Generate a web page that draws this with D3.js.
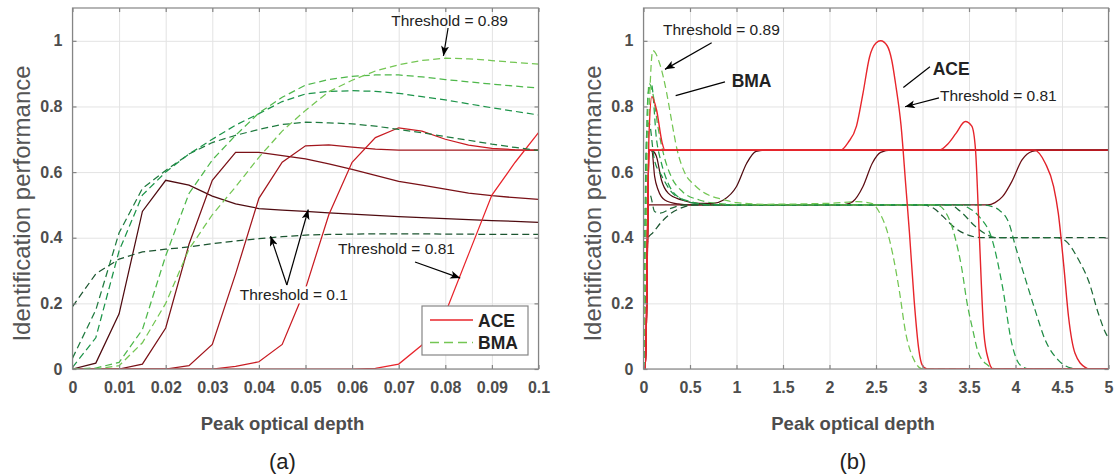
<!DOCTYPE html>
<html><head><meta charset="utf-8">
<script src="https://cdn.jsdelivr.net/npm/d3@7/dist/d3.min.js"></script>
<style>body{margin:0;background:#fff}svg{display:block}</style>
</head><body><svg id="c" width="1115" height="474"></svg>
<script>
// ---------- DATA: panel (a) ----------
const xA = [0,0.005,0.01,0.015,0.02,0.025,0.03,0.035,0.04,0.045,0.05,0.055,0.06,0.065,0.07,0.075,0.08,0.085,0.09,0.095,0.1];
const aceA1 = [0,0.018,0.168,0.48,0.575,0.56,0.527,0.503,0.489,0.484,0.48,0.476,0.472,0.468,0.464,0.461,0.458,0.455,0.452,0.45,0.447];
const aceA2 = [0,0,0,0.015,0.125,0.38,0.575,0.66,0.66,0.65,0.64,0.625,0.608,0.59,0.572,0.56,0.548,0.536,0.528,0.522,0.517];
const aceA3 = [0,0,0,0,0,0.01,0.075,0.29,0.52,0.63,0.68,0.683,0.676,0.67,0.667,0.667,0.667,0.667,0.667,0.667,0.667];
const aceA4 = [0,0,0,0,0,0,0,0.008,0.022,0.075,0.245,0.47,0.63,0.705,0.735,0.725,0.7,0.682,0.672,0.668,0.667];
const aceA5 = [0,0,0,0,0,0,0,0,0,0,0,0,0,0.002,0.015,0.073,0.17,0.35,0.53,0.63,0.72];
const bmaA1 = [0.19,0.29,0.335,0.357,0.365,0.372,0.382,0.39,0.397,0.403,0.408,0.41,0.411,0.412,0.412,0.412,0.411,0.411,0.41,0.41,0.41];
const bmaA2 = [0.033,0.18,0.415,0.55,0.605,0.655,0.69,0.712,0.73,0.745,0.752,0.75,0.747,0.74,0.73,0.72,0.708,0.697,0.685,0.675,0.666];
const bmaA3 = [0.005,0.095,0.36,0.53,0.6,0.655,0.7,0.743,0.778,0.815,0.838,0.846,0.848,0.846,0.84,0.83,0.82,0.808,0.796,0.785,0.774];
const bmaA4 = [0,0.003,0.02,0.12,0.345,0.535,0.637,0.712,0.78,0.828,0.865,0.882,0.892,0.896,0.896,0.89,0.882,0.875,0.868,0.862,0.856];
const bmaA5 = [0,0,0.01,0.08,0.2,0.365,0.47,0.555,0.645,0.725,0.788,0.845,0.88,0.908,0.927,0.94,0.947,0.945,0.94,0.934,0.929];

// ---------- DATA: panel (b) as [x, value] ----------
const aceB1 = [[0,0],[0.02,0],[0.06,0.667],[0.1,0.664],[0.14,0.647],[0.193,0.576],[0.265,0.536],[0.41,0.515],[0.6,0.505],[0.75,0.505],[0.86,0.515],[1.0,0.556],[1.11,0.627],[1.21,0.663],[1.32,0.667],[5,0.667]];
const aceB2 = [[0,0],[0.02,0],[0.06,0.667],[0.09,0.665],[0.12,0.586],[0.157,0.546],[0.229,0.515],[0.37,0.503],[0.5,0.5],[2.15,0.5],[2.25,0.51],[2.36,0.556],[2.46,0.627],[2.55,0.66],[2.66,0.667],[5,0.667]];
const aceB3 = [[0,0],[0.02,0],[0.055,0.5],[3.7,0.5],[3.78,0.507],[3.86,0.525],[3.96,0.571],[4.07,0.637],[4.18,0.663],[4.28,0.667],[5,0.667]];
const aceB4 = [[0,0],[0.02,0],[0.06,0.667],[5,0.667]];
const aceB5 = [[0,0],[0.02,0],[0.06,0.667],[4.2,0.667],[4.32,0.627],[4.41,0.556],[4.46,0.475],[4.52,0.312],[4.57,0.16],[4.64,0.048],[4.75,0.005],[4.8,0],[5,0]];
const aceB6 = [[0,0],[0.02,0],[0.06,0.667],[3.18,0.667],[3.27,0.685],[3.36,0.718],[3.46,0.754],[3.53,0.74],[3.57,0.668],[3.61,0.414],[3.66,0.11],[3.71,0.027],[3.76,0],[5,0]];
const aceB7 = [[0,0],[0.02,0],[0.06,0.72],[0.09,0.83],[0.14,0.79],[0.2,0.69],[0.23,0.667],[2.12,0.667],[2.2,0.69],[2.29,0.74],[2.36,0.84],[2.43,0.95],[2.5,0.993],[2.55,1.0],[2.62,0.985],[2.67,0.94],[2.71,0.87],[2.77,0.74],[2.82,0.56],[2.86,0.414],[2.91,0.21],[2.96,0.06],[3.0,0.01],[3.05,0],[5,0]];
const bmaB1 = [[0,0],[0.05,0.4],[0.1,0.415],[0.2,0.45],[0.3,0.475],[0.4,0.49],[0.55,0.5],[3.0,0.5],[3.12,0.49],[3.22,0.465],[3.35,0.43],[3.5,0.407],[3.65,0.4],[5,0.4]];
const bmaB2 = [[0,0],[0.04,0.52],[0.07,0.53],[0.12,0.48],[0.18,0.475],[0.3,0.49],[0.45,0.5],[3.3,0.5],[3.4,0.482],[3.57,0.434],[3.7,0.408],[3.8,0.4],[4.45,0.4],[4.54,0.39],[4.68,0.332],[4.79,0.265],[4.89,0.17],[4.98,0.104],[5,0.095]];
const bmaB3 = [[0,0],[0.035,0.72],[0.06,0.75],[0.115,0.64],[0.193,0.59],[0.3,0.54],[0.43,0.515],[0.6,0.503],[0.8,0.5],[3.65,0.5],[3.75,0.495],[3.82,0.485],[3.93,0.444],[4.0,0.373],[4.11,0.271],[4.21,0.18],[4.32,0.088],[4.46,0.027],[4.6,0.003],[4.7,0],[5,0]];
const bmaB4 = [[0,0],[0.05,0.84],[0.086,0.866],[0.14,0.7],[0.193,0.627],[0.265,0.566],[0.37,0.525],[0.51,0.51],[0.7,0.5],[3.4,0.5],[3.5,0.49],[3.61,0.464],[3.75,0.393],[3.86,0.251],[3.96,0.078],[4.05,0.012],[4.15,0],[5,0]];
const bmaB5 = [[0,0],[0.06,0.87],[0.1,0.84],[0.16,0.73],[0.22,0.65],[0.3,0.585],[0.42,0.54],[0.6,0.515],[0.85,0.503],[1.1,0.5],[3.15,0.5],[3.29,0.455],[3.36,0.39],[3.42,0.31],[3.48,0.2],[3.54,0.12],[3.6,0.05],[3.7,0.012],[3.8,0],[5,0]];
const bmaB6 = [[0,0],[0.1,0.97],[0.18,0.925],[0.25,0.84],[0.3,0.76],[0.36,0.67],[0.44,0.6],[0.55,0.56],[0.7,0.53],[0.85,0.517],[1.0,0.507],[1.3,0.502],[2.0,0.505],[2.3,0.51],[2.45,0.505],[2.55,0.47],[2.62,0.42],[2.68,0.35],[2.75,0.24],[2.82,0.109],[2.91,0.027],[3.0,0],[5,0]];

// ---------- TICKS ----------
const xTicksA = [0,0.01,0.02,0.03,0.04,0.05,0.06,0.07,0.08,0.09,0.1];
const xLabelsA = ["0","0.01","0.02","0.03","0.04","0.05","0.06","0.07","0.08","0.09","0.1"];
const xTicksB = [0,0.5,1,1.5,2,2.5,3,3.5,4,4.5,5];
const xLabelsB = ["0","0.5","1","1.5","2","2.5","3","3.5","4","4.5","5"];
const yTicks = [0,0.2,0.4,0.6,0.8,1];
const yLabels = ["0","0.2","0.4","0.6","0.8","1"];

const aceColA = ["#4f0b10","#7a1117","#a3161d","#c91b22","#e8242b"];
const bmaColA = ["#1c5530","#1f7a3f","#1c9449","#4fb84b","#74c653"];
const aceColB = ["#4f0b10","#5d0d13","#6c0f15","#d41d25","#e2222a","#e6242b","#e8262c"];
const bmaColB = ["#1c5530","#1f6a38","#1f8a45","#23a04a","#4fb84b","#74c653"];

const FONT = "Liberation Sans, Arial, Helvetica, sans-serif";
const svg = d3.select("#c");
const defs = svg.append("defs");
defs.append("marker").attr("id","arr").attr("viewBox","0 0 10 8").attr("refX",10).attr("refY",4)
  .attr("markerWidth",10).attr("markerHeight",8).attr("markerUnits","userSpaceOnUse").attr("orient","auto")
  .append("path").attr("d","M0,0 L10,4 L0,8 L2.5,4 Z").attr("fill","#000");

const TOP = 8, BOT = 369;

function panel(o){
  const x = d3.scaleLinear().domain(o.xDomain).range([o.left,o.right]);
  const y = d3.scaleLinear().domain([0,1.1]).range([BOT,TOP]);
  const g = svg.append("g");
  defs.append("clipPath").attr("id","clip"+o.id).append("rect")
    .attr("x",o.left).attr("y",TOP).attr("width",o.right-o.left).attr("height",BOT-TOP);
  // grid
  g.append("g").attr("transform",`translate(0,${BOT})`)
    .call(d3.axisBottom(x).tickValues(o.xTicks).tickSize(-(BOT-TOP)).tickFormat(""))
    .call(s=>{s.select(".domain").remove();s.selectAll("line").attr("stroke","#e3e3e3");});
  g.append("g").attr("transform",`translate(${o.left},0)`)
    .call(d3.axisLeft(y).tickValues(yTicks).tickSize(-(o.right-o.left)).tickFormat(""))
    .call(s=>{s.select(".domain").remove();s.selectAll("line").attr("stroke","#e3e3e3");});
  // lines
  const lg = g.append("g").attr("clip-path",`url(#clip${o.id})`).attr("fill","none");
  o.ace.forEach((d,i)=>{
    lg.append("path").attr("d",o.line(d)).attr("stroke",o.aceCol[i]).attr("stroke-width",1.25);
  });
  o.bma.forEach((d,i)=>{
    lg.append("path").attr("d",o.line(d)).attr("stroke",o.bmaCol[i]).attr("stroke-width",1.25).attr("stroke-dasharray","7,4");
  });
  o.aceTop.forEach((d,i)=>{
    lg.append("path").attr("d",o.line(d)).attr("stroke",o.aceTopCol[i]).attr("stroke-width",1.4);
  });
  // frame
  g.append("rect").attr("x",o.left).attr("y",TOP).attr("width",o.right-o.left).attr("height",BOT-TOP)
    .attr("fill","none").attr("stroke","#858585").attr("stroke-width",1.2);
  const styleAx = s=>{
    s.select(".domain").remove();
    s.selectAll("line").attr("stroke","#858585").attr("stroke-width",1.2);
    s.selectAll("text").attr("fill","#4d4d4d").attr("font-weight","bold").attr("font-size",16).attr("font-family",FONT);
  };
  g.append("g").attr("transform",`translate(0,${BOT})`)
    .call(d3.axisBottom(x).tickValues(o.xTicks).tickFormat((d,i)=>o.xLabels[i]).tickSize(-4).tickPadding(13)).call(styleAx);
  g.append("g").attr("transform",`translate(0,${TOP})`)
    .call(d3.axisTop(x).tickValues(o.xTicks).tickFormat("").tickSize(-4)).call(styleAx);
  g.append("g").attr("transform",`translate(${o.left},0)`)
    .call(d3.axisLeft(y).tickValues(yTicks).tickFormat((d,i)=>yLabels[i]).tickSize(-4).tickPadding(10)).call(styleAx);
  g.append("g").attr("transform",`translate(${o.right},0)`)
    .call(d3.axisRight(y).tickValues(yTicks).tickFormat("").tickSize(-4)).call(styleAx);
  // titles
  const cx = (o.left+o.right)/2 - 23;
  g.append("text").attr("x",cx).attr("y",429.5).attr("text-anchor","middle")
    .attr("font-family",FONT).attr("font-weight","bold").attr("font-size",18.5).attr("fill","#4d4d4d").text("Peak optical depth");
  g.append("text").attr("x",cx).attr("y",469).attr("text-anchor","middle")
    .attr("font-family",FONT).attr("font-size",22).attr("fill","#222").text(o.tag);
  g.append("text").attr("transform",`translate(${o.left-43},${(TOP+BOT)/2+15}) rotate(-90)`).attr("text-anchor","middle")
    .attr("font-family",FONT).attr("font-size",24).attr("fill","#555").text("Identification performance");
  return {x,y,g};
}

function annText(g,x,y,t,bold,size){
  return g.append("text").attr("x",x).attr("y",y).attr("font-family",FONT)
    .attr("font-size",size||15.5).attr("font-weight",bold?"bold":"normal").attr("fill","#222").text(t);
}
function arrow(g,x1,y1,x2,y2,head){
  const l = g.append("line").attr("x1",x1).attr("y1",y1).attr("x2",x2).attr("y2",y2)
    .attr("stroke","#000").attr("stroke-width",1.2);
  if(head) l.attr("marker-end","url(#arr)");
}

// ---------- Panel (a) ----------
const lineA = d3.line();
let pa;
{
  const xs = d3.scaleLinear().domain([0,0.1]).range([72.5,538.5]);
  const ys = d3.scaleLinear().domain([0,1.1]).range([BOT,TOP]);
  lineA.x((d,i)=>xs(xA[i])).y(d=>ys(d));
  pa = panel({id:"a",xDomain:[0,0.1],left:72.5,right:538.5,xTicks:xTicksA,xLabels:xLabelsA,tag:"(a)",
    line:lineA,ace:[aceA1,aceA2,aceA3,aceA4,aceA5],aceCol:aceColA,
    bma:[bmaA1,bmaA2,bmaA3,bmaA4,bmaA5],bmaCol:bmaColA,aceTop:[],aceTopCol:[]});
  const {x,y,g} = pa;
  annText(g,x(0.0684),y(1.045),"Threshold = 0.89");
  arrow(g,x(0.0806),y(1.039),x(0.0796),y(0.954),true);
  annText(g,x(0.057),y(0.349),"Threshold = 0.81");
  arrow(g,x(0.0735),y(0.326),x(0.0832),y(0.277),true);
  const t1 = annText(g,x(0.0359),y(0.209),"Threshold = 0.1");
  const bb = t1.node().getBBox();
  g.insert("rect",()=>t1.node()).attr("x",bb.x-2).attr("y",bb.y).attr("width",bb.width+4).attr("height",bb.height).attr("fill","#fff");
  arrow(g,x(0.046),y(0.256),x(0.0425),y(0.405),true);
  arrow(g,x(0.046),y(0.256),x(0.0506),y(0.486),true);
  // legend
  const lx = x(0.1)-116.5, ly = y(0)-63;
  const lgd = g.append("g").attr("transform",`translate(${lx},${ly})`);
  lgd.append("rect").attr("x",0).attr("y",0).attr("width",106).attr("height",49).attr("fill","#fff").attr("stroke","#858585").attr("stroke-width",1.2);
  lgd.append("line").attr("x1",8).attr("x2",51).attr("y1",14).attr("y2",14).attr("stroke","#e8242b").attr("stroke-width",1.3);
  lgd.append("line").attr("x1",8).attr("x2",51).attr("y1",36.5).attr("y2",36.5).attr("stroke","#74c653").attr("stroke-width",1.3).attr("stroke-dasharray","9,5");
  lgd.append("text").attr("x",56).attr("y",20.5).attr("font-family",FONT).attr("font-weight","bold").attr("font-size",17.5).attr("fill","#222").text("ACE");
  lgd.append("text").attr("x",56).attr("y",43).attr("font-family",FONT).attr("font-weight","bold").attr("font-size",17.5).attr("fill","#222").text("BMA");
}

// ---------- Panel (b) ----------
{
  const xs = d3.scaleLinear().domain([0,5]).range([643.5,1108.5]);
  const ys = d3.scaleLinear().domain([0,1.1]).range([BOT,TOP]);
  const lineB = d3.line().x(d=>xs(d[0])).y(d=>ys(d[1])).curve(d3.curveMonotoneX);
  const pb = panel({id:"b",xDomain:[0,5],left:643.5,right:1108.5,xTicks:xTicksB,xLabels:xLabelsB,tag:"(b)",
    line:lineB,ace:[aceB1,aceB2,aceB3],aceCol:aceColB.slice(0,3),
    bma:[bmaB1,bmaB2,bmaB3,bmaB4,bmaB5,bmaB6],bmaCol:bmaColB,
    aceTop:[aceB4,aceB5,aceB6,aceB7],aceTopCol:aceColB.slice(3)});
  const {x,y,g} = pb;
  annText(g,x(0.21),y(1.018),"Threshold = 0.89");
  arrow(g,x(0.733),y(0.994),x(0.231),y(0.913),true);
  annText(g,x(0.948),y(0.858),"BMA",true,17.5);
  arrow(g,x(0.876),y(0.875),x(0.346),y(0.833),false);
  annText(g,x(3.11),y(0.897),"ACE",true,17.5);
  arrow(g,x(3.08),y(0.921),x(2.794),y(0.858),false);
  annText(g,x(3.188),y(0.818),"Threshold = 0.81");
  arrow(g,x(3.177),y(0.826),x(2.812),y(0.799),true);
}
</script>
</body></html>
